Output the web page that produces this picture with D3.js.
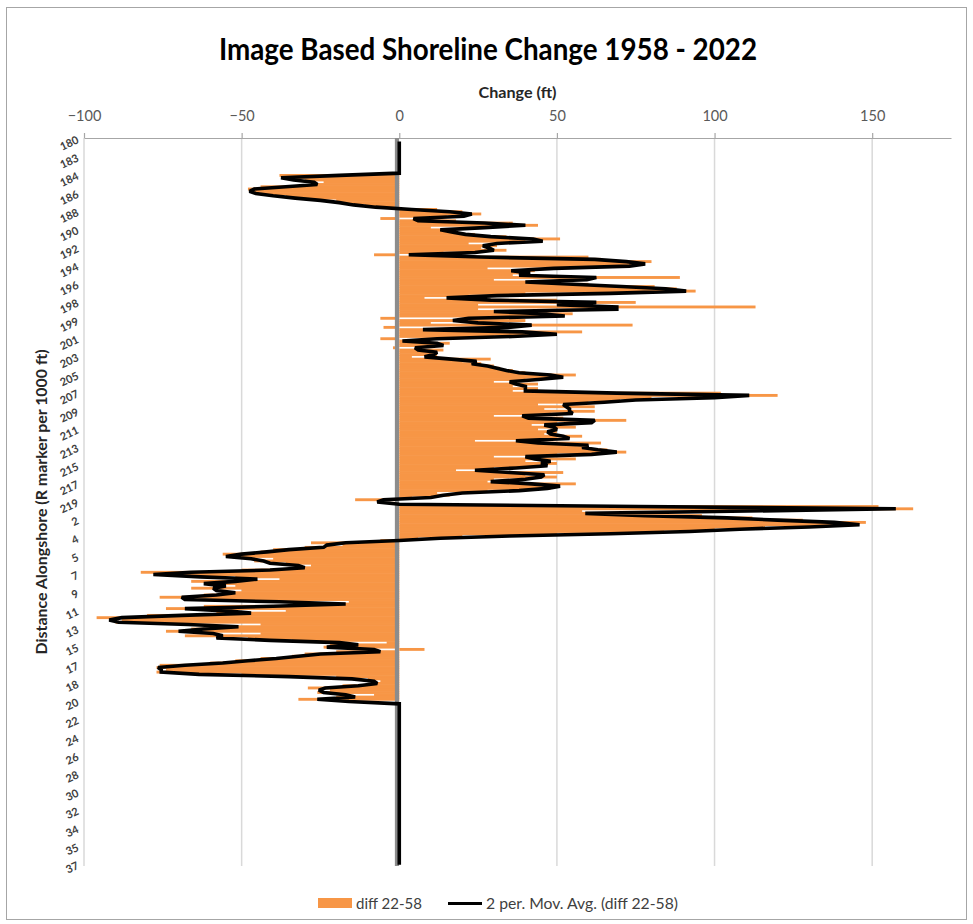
<!DOCTYPE html>
<html>
<head>
<meta charset="utf-8">
<script src="https://cdn.jsdelivr.net/npm/d3@7"></script>
<style>
  body { margin: 0; background: #fff; }
  svg { display: block; }
  text { font-family: Lato, "Open Sans", sans-serif; }
</style>
</head>
<body>
<svg id="chart" width="973" height="924"></svg>
<script>
// R-marker labels shown along the alongshore axis (one every 8 transects)
const tickLabels = ["180","183","184","186","188","190","192","194","196","198",
  "199","201","203","205","207","209","211","213","215","217","219",
  "2","4","5","7","9","11","13","15","17","18","20",
  "22","24","26","28","30","32","34","35","37"];
const transectsPerLabel = 8;

// Change in shoreline position 2022 vs 1958 (ft), one value per transect
const changeFt = [
  0, 0, 0, 0, 0, 0, 0, 0, 0, 0, 0, 0, 0, 0, 0, 0,
  -38, -37, -30, -24, -28, -44, -48, -47,
  -44, -36, -30, -20, -18, -11, -4, 12,
  20, 26, 15, -6, 18, 36, 44, 10,
  16, 18, 24, 34, 51, 40, 22, 31,
  26, 34, 14, -8, 60, 64, 80, 76,
  70, 28, 43, 40, 36, 89, 30, 50,
  60, 81, 88, 94, 40, 22, 8, 50,
  75, 25, 113, 25, 35, 55, 50, -6,
  40, 10, 74, -5, 20, 58, 42, 30,
  -6, 8, 16, 12, -2, 14, 10, 12,
  4, 29, 20, 26, 30, 32, 36, 40,
  56, 48, 40, 30, 44, 36, 44, 36,
  102, 120, 80, 70, 60, 44, 62, 46,
  62, 48, 30, 52, 72, 50, 42, 56,
  44, 50, 46, 58, 50, 24, 64, 56,
  60, 66, 72, 50, 30, 56, 40, 50,
  44, 30, 18, 52, 40, 50, 30, 28,
  56, 46, 48, 28, 12, 16, 4, -14,
  0, 0, 152, 163, 58, 60, 96, 112,
  128, 148, 144, 116, 100, 84, 50, 20,
  6, -6, -28, -18, -30, -40, -44, -56,
  -54, -40, -46, -36, -28, -32, -50, -82,
  -74, -52, -38, -66, -58, -52, -66, -50,
  -54, -62, -76, -60, -16, -18, -62, -74,
  -36, -58, -80, -96, -88, -90, -44, -58,
  -66, -74, -44, -68, -48, -34, -4, -22,
  -24, 8, -20, -30, -34, -44, -52, -60,
  -76, -77, -74, -77, -50, -20, -10, -6,
  -8, -18, -29, -22, -26, -8, -20, -32,
  0,
  0, 0, 0, 0, 0, 0, 0, 0, 0, 0, 0, 0, 0, 0, 0, 0, 0, 0,
  0, 0, 0, 0, 0, 0, 0, 0, 0, 0, 0, 0, 0, 0, 0, 0, 0, 0,
  0, 0, 0, 0, 0, 0, 0, 0, 0, 0, 0, 0, 0, 0, 0, 0, 0, 0,
  0, 0, 0, 0, 0, 0, 0, 0, 0, 0, 0, 0, 0, 0, 0, 0, 0, 0
];

const xTicks = [-100, -50, 0, 50, 100, 150];
const xDomain = [-100, 175];

const seriesName = "diff 22-58";
const trendName = "2 per. Mov. Avg. (diff 22-58)";

const svg = d3.select("#chart");
const plot = { left: 84, right: 951, top: 138, bottom: 866 };
const categories = d3.range(changeFt.length);

const x = d3.scaleLinear().domain(xDomain).range([plot.left, plot.right]);
const y = d3.scaleBand().domain(categories).range([plot.top, plot.bottom]).padding(0);
const bw = y.bandwidth();

// chart frame
svg.append("rect")
  .attr("x", 6.5).attr("y", 7.5).attr("width", 960).attr("height", 912)
  .attr("fill", "#fff").attr("stroke", "#a6a6a6").attr("stroke-width", 1);

// title
svg.append("text")
  .attr("x", 488).attr("y", 60)
  .attr("text-anchor", "middle")
  .attr("font-size", 30).attr("font-weight", 700).attr("fill", "#000")
  .attr("textLength", 538).attr("lengthAdjust", "spacingAndGlyphs")
  .text("Image Based Shoreline Change 1958 - 2022");

// vertical gridlines
svg.append("g")
  .selectAll("line")
  .data(xTicks.filter(d => d !== 0))
  .join("line")
  .attr("x1", d => x(d)).attr("x2", d => x(d))
  .attr("y1", plot.top).attr("y2", plot.bottom)
  .attr("stroke", "#d9d9d9").attr("stroke-width", 1.5);

// top value axis
const xAxisG = svg.append("g")
  .attr("transform", `translate(0,${plot.top})`)
  .call(d3.axisTop(x).tickValues(xTicks).tickSize(5).tickSizeOuter(0).tickPadding(12));
xAxisG.select(".domain").attr("stroke", "#a6a6a6").attr("stroke-width", 1.2);
xAxisG.selectAll(".tick line").attr("stroke", "#a6a6a6").attr("stroke-width", 1.2);
xAxisG.selectAll(".tick text")
  .attr("font-size", 14.5).attr("fill", "#595959")
  .style("font-family", "Lato, 'Open Sans', sans-serif");

// x axis title
svg.append("text")
  .attr("x", (plot.left + plot.right) / 2).attr("y", 98)
  .attr("text-anchor", "middle")
  .attr("font-size", 14.5).attr("font-weight", 700).attr("fill", "#262626")
  .attr("textLength", 78).attr("lengthAdjust", "spacingAndGlyphs")
  .text("Change (ft)");

// bars: one per transect
svg.append("g")
  .selectAll("rect")
  .data(categories.filter(i => changeFt[i] !== 0))
  .join("rect")
  .attr("x", i => Math.min(x(0), x(changeFt[i])))
  .attr("y", i => y(i) - 0.3)
  .attr("width", i => Math.abs(x(changeFt[i]) - x(0)))
  .attr("height", bw + 0.6)
  .attr("fill", "#f79646");

// category axis line at zero
svg.append("line")
  .attr("x1", x(0) - 2.3).attr("x2", x(0) - 2.3)
  .attr("y1", plot.top).attr("y2", plot.bottom)
  .attr("stroke", "#8c8c8c").attr("stroke-width", 4.2);

// 2-period moving average trendline
const movAvg = categories.slice(1).map(i => ({ i, v: (changeFt[i - 1] + changeFt[i]) / 2 }));
const trend = d3.line()
  .x(d => x(d.v))
  .y(d => y(d.i) + bw / 2);
svg.append("path")
  .datum(movAvg)
  .attr("d", trend)
  .attr("fill", "none")
  .attr("stroke", "#000")
  .attr("stroke-width", 3.6)
  .attr("stroke-linejoin", "miter")
  .attr("stroke-miterlimit", 2);

// category axis labels
const yAxisG = svg.append("g")
  .attr("transform", `translate(${plot.left - 6},0)`)
  .call(d3.axisLeft(y)
    .tickValues(categories.filter(i => i % transectsPerLabel === 0))
    .tickFormat(i => tickLabels[i / transectsPerLabel])
    .tickSize(0).tickPadding(0));
yAxisG.select(".domain").remove();
yAxisG.selectAll(".tick text")
  .attr("x", 0).attr("dy", "0.35em")
  .attr("text-anchor", "end")
  .attr("transform", "rotate(-25)")
  .attr("font-size", 11).attr("font-weight", 700).attr("fill", "#404040")
  .style("font-family", "Lato, 'Open Sans', sans-serif");

// y axis title
svg.append("text")
  .attr("transform", `translate(47,${(plot.top + plot.bottom) / 2}) rotate(-90)`)
  .attr("text-anchor", "middle")
  .attr("font-size", 15).attr("font-weight", 700).attr("fill", "#262626")
  .attr("textLength", 305).attr("lengthAdjust", "spacingAndGlyphs")
  .text("Distance Alongshore (R marker per 1000 ft)");

// legend
const legend = svg.append("g");
legend.append("rect")
  .attr("x", 318).attr("y", 898).attr("width", 34).attr("height", 10)
  .attr("fill", "#f79646");
legend.append("text")
  .attr("x", 356).attr("y", 909)
  .attr("font-size", 14.5).attr("fill", "#404040")
  .attr("textLength", 66).attr("lengthAdjust", "spacingAndGlyphs")
  .text(seriesName);
legend.append("line")
  .attr("x1", 448).attr("x2", 482).attr("y1", 903.5).attr("y2", 903.5)
  .attr("stroke", "#000").attr("stroke-width", 3);
legend.append("text")
  .attr("x", 486).attr("y", 909)
  .attr("font-size", 14.5).attr("fill", "#404040")
  .attr("textLength", 192).attr("lengthAdjust", "spacingAndGlyphs")
  .text(trendName);
</script>
</body>
</html>
